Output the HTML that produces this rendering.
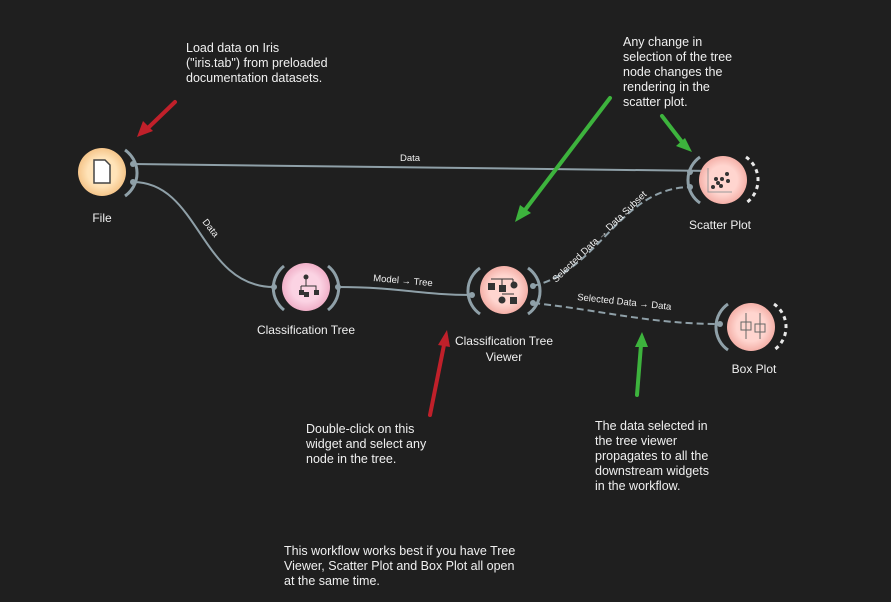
<!DOCTYPE html><html><head><style>
html,body{margin:0;padding:0;background:#1f1f1f;width:891px;height:602px;overflow:hidden}
svg{display:block}
text{font-family:"Liberation Sans",sans-serif;fill:#f0f0f0}
</style></head><body>
<svg width="891" height="602" viewBox="0 0 891 602">
<defs>
<radialGradient id="gf"><stop offset="0.6" stop-color="#ffe3b8"/><stop offset="1" stop-color="#f5c58a"/></radialGradient>
<radialGradient id="gp"><stop offset="0.6" stop-color="#fbd3e3"/><stop offset="1" stop-color="#f0b0c8"/></radialGradient>
<radialGradient id="gr"><stop offset="0.6" stop-color="#ffd5cf"/><stop offset="1" stop-color="#f4b0a8"/></radialGradient>
</defs>
<g fill="none" stroke="#8fa0a8" stroke-width="2">
<path d="M133 164 L713 171"/>
<path d="M133 182 C200 182,200 287,274 287"/>
<path d="M338 287 C400 287,420 295,472 295"/>
<path d="M533 286 C600 270,620 188,690 187" stroke-dasharray="7,4"/>
<path d="M533 303 C600 310,650 324,720 324" stroke-dasharray="7,4"/>
</g>
<g fill="none" stroke="#8fa0a8" stroke-width="3">
<path d="M125 150 A28 28 0 0 1 125 196"/>
<path d="M284 266 A28 28 0 0 0 284 310"/><path d="M328 266 A28 28 0 0 1 328 310"/>
<path d="M480 268 A28 28 0 0 0 480 314"/><path d="M528 268 A28 28 0 0 1 528 314"/>
<path d="M700 157 A28 28 0 0 0 700 203"/>
<path d="M728 304 A28 28 0 0 0 728 350"/>
</g>
<g fill="none" stroke="#e8e8e8" stroke-width="3" stroke-dasharray="4,4">
<path d="M746 157 A28 28 0 0 1 746 203"/><path d="M774 304 A28 28 0 0 1 774 350"/>
</g>
<g fill="#8fa0a8"><circle cx="133" cy="164" r="3"/><circle cx="133" cy="182" r="3"/><circle cx="274" cy="287" r="3"/><circle cx="338" cy="287" r="3"/><circle cx="472" cy="295" r="3"/><circle cx="533" cy="286" r="3"/><circle cx="533" cy="303" r="3"/><circle cx="690" cy="172" r="3"/><circle cx="690" cy="187" r="3"/><circle cx="720" cy="324" r="3"/></g>
<circle cx="102" cy="172" r="24" fill="url(#gf)"/>
<path d="M94 160h11l5 5v18h-16z" fill="#fff" stroke="#444" stroke-width="1.5"/>
<circle cx="306" cy="287" r="24" fill="url(#gp)"/>
<g fill="#333"><circle cx="306" cy="277" r="2.5"/><rect x="299" y="290" width="5" height="5"/><rect x="304" y="292" width="5" height="5"/><rect x="314" y="290" width="5" height="5"/><path d="M306 278v8M301 286h15v4M301 286v4" stroke="#333" fill="none"/></g>
<circle cx="504" cy="290" r="24" fill="url(#gr)"/>
<g fill="#333"><rect x="488" y="283" width="7" height="7"/><rect x="499" y="285" width="7" height="7"/><circle cx="514" cy="285" r="3.5"/><circle cx="502" cy="300" r="3.5"/><rect x="510" y="297" width="7" height="7"/><path d="M491 279h22M502 279v6M513 279v4M502 294h12" stroke="#333" fill="none"/></g>
<circle cx="723" cy="180" r="24" fill="url(#gr)"/>
<g fill="#333"><path d="M708 168v24h24" stroke="#999" fill="none"/><circle cx="713" cy="187" r="2"/><circle cx="718" cy="183" r="2"/><circle cx="722" cy="179" r="2"/><circle cx="727" cy="174" r="2"/><circle cx="716" cy="179" r="2"/><circle cx="721" cy="186" r="2"/><circle cx="728" cy="181" r="2"/></g>
<circle cx="751" cy="327" r="24" fill="url(#gr)"/>
<g stroke="#666" fill="none"><path d="M746 313v26M741 322h10v8h-10z"/><path d="M760 313v26M755 324h10v8h-10z"/></g>
<g font-size="12" text-anchor="middle">
<text x="102" y="222">File</text>
<text x="306" y="334">Classification Tree</text>
<text x="504" y="345">Classification Tree</text><text x="504" y="361">Viewer</text>
<text x="720" y="229">Scatter Plot</text>
<text x="754" y="373">Box Plot</text>
</g>
<g font-size="9.5" fill="#ddd">
<text x="400" y="161">Data</text>
<text transform="translate(202,222) rotate(52)">Data</text>
<text x="373" y="281" transform="rotate(5 373 281)">Model → Tree</text>
<text transform="translate(556,283) rotate(-44)">Selected Data → Data Subset</text>
<text x="577" y="300" transform="rotate(6 577 300)">Selected Data → Data</text>
</g>
<g font-size="12.5">
<text x="186" y="52">Load data on Iris</text><text x="186" y="67">("iris.tab") from preloaded</text><text x="186" y="82">documentation datasets.</text>
<text x="623" y="46">Any change in</text><text x="623" y="61">selection of the tree</text><text x="623" y="76">node changes the</text><text x="623" y="91">rendering in the</text><text x="623" y="106">scatter plot.</text>
<text x="306" y="433">Double-click on this</text><text x="306" y="448">widget and select any</text><text x="306" y="463">node in the tree.</text>
<text x="595" y="430">The data selected in</text><text x="595" y="445">the tree viewer</text><text x="595" y="460">propagates to all the</text><text x="595" y="475">downstream widgets</text><text x="595" y="490">in the workflow.</text>
<text x="284" y="555">This workflow works best if you have Tree</text><text x="284" y="570">Viewer, Scatter Plot and Box Plot all open</text><text x="284" y="585">at the same time.</text>
</g>
<g stroke-width="4" stroke-linecap="round">
<path d="M175 102L148 128" stroke="#c0202a"/><path d="M137 137l6-16 10 10z" fill="#c0202a"/>
<path d="M430 415L444 345" stroke="#c0202a"/><path d="M447 330l3 17-12-2z" fill="#c0202a"/>
<path d="M610 98L525 210" stroke="#3db33d"/><path d="M515 222l5-17 11 8z" fill="#3db33d"/>
<path d="M662 116L682 142" stroke="#3db33d"/><path d="M692 152l-16-6 9-8z" fill="#3db33d"/>
<path d="M637 395L641 345" stroke="#3db33d"/><path d="M642 332l6 15-13 0z" fill="#3db33d"/>
</g>
</svg>
</body></html>
